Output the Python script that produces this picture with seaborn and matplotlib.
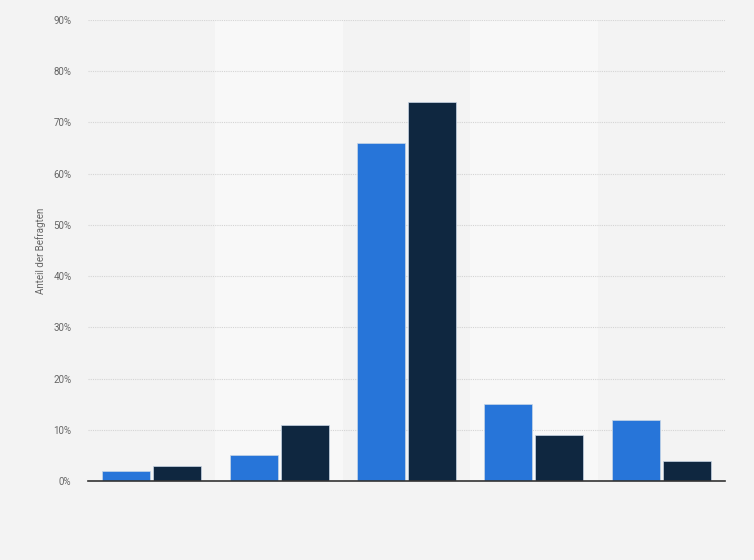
import matplotlib
matplotlib.use("Agg")
import matplotlib.pyplot as plt
import seaborn as sns
import pandas as pd
from matplotlib.ticker import FuncFormatter

categories = ["Kategorie 1", "Kategorie 2", "Kategorie 3", "Kategorie 4", "Kategorie 5"]
series_names = ["Serie A", "Serie B"]
values_a = [2, 5, 66, 15, 12]
values_b = [3, 11, 74, 9, 4]
y_ticks = [0, 10, 20, 30, 40, 50, 60, 70, 80, 90]

df = pd.DataFrame({
    "Kategorie": categories * 2,
    "Serie": [series_names[0]] * len(categories) + [series_names[1]] * len(categories),
    "Wert": values_a + values_b,
})

sns.set_theme(style="white")
plt.rcParams["font.family"] = ["Roboto", "DejaVu Sans"]

fig = plt.figure(figsize=(7.54, 5.6), dpi=100)
fig.patch.set_facecolor("#f3f3f3")
ax = fig.add_axes([88 / 754, 1 - 481 / 560, (725 - 88) / 754, (481 - 20) / 560])
ax.set_facecolor("#f3f3f3")

for i in range(len(categories)):
    if i % 2 == 1:
        ax.axvspan(i - 0.5, i + 0.5, color="#f8f8f8", zorder=0, lw=0)

sns.barplot(data=df, x="Kategorie", y="Wert", hue="Serie",
            palette=["#2775d9", "#0f2740"], saturation=1, width=0.8, gap=0.06,
            edgecolor="#c8d6e6", linewidth=0.5, ax=ax, zorder=3, legend=False)

ax.set_xlim(-0.5, len(categories) - 0.5)
ax.set_ylim(0, 90)
ax.set_yticks(y_ticks)
ax.yaxis.set_major_formatter(FuncFormatter(lambda v, p: f"{int(v)}%"))
ax.tick_params(axis="y", labelsize=7, labelcolor="#666666", length=0, pad=12)
ax.tick_params(axis="x", length=0, labelbottom=False)
ax.grid(axis="y", color="#d4d4d4", linestyle=(0, (1, 1)), linewidth=0.8, zorder=1)
ax.set_axisbelow(True)
for s in ["top", "right", "left"]:
    ax.spines[s].set_visible(False)
ax.spines["bottom"].set_color("#333333")
ax.spines["bottom"].set_linewidth(1.2)
ax.spines["bottom"].set_zorder(5)
ax.set_xlabel("")
ax.set_ylabel("Anteil der Befragten", fontsize=7, color="#666666")
ax.yaxis.set_label_coords(-0.066, 0.5)

fig.savefig("out.png", dpi=100, facecolor=fig.get_facecolor())
